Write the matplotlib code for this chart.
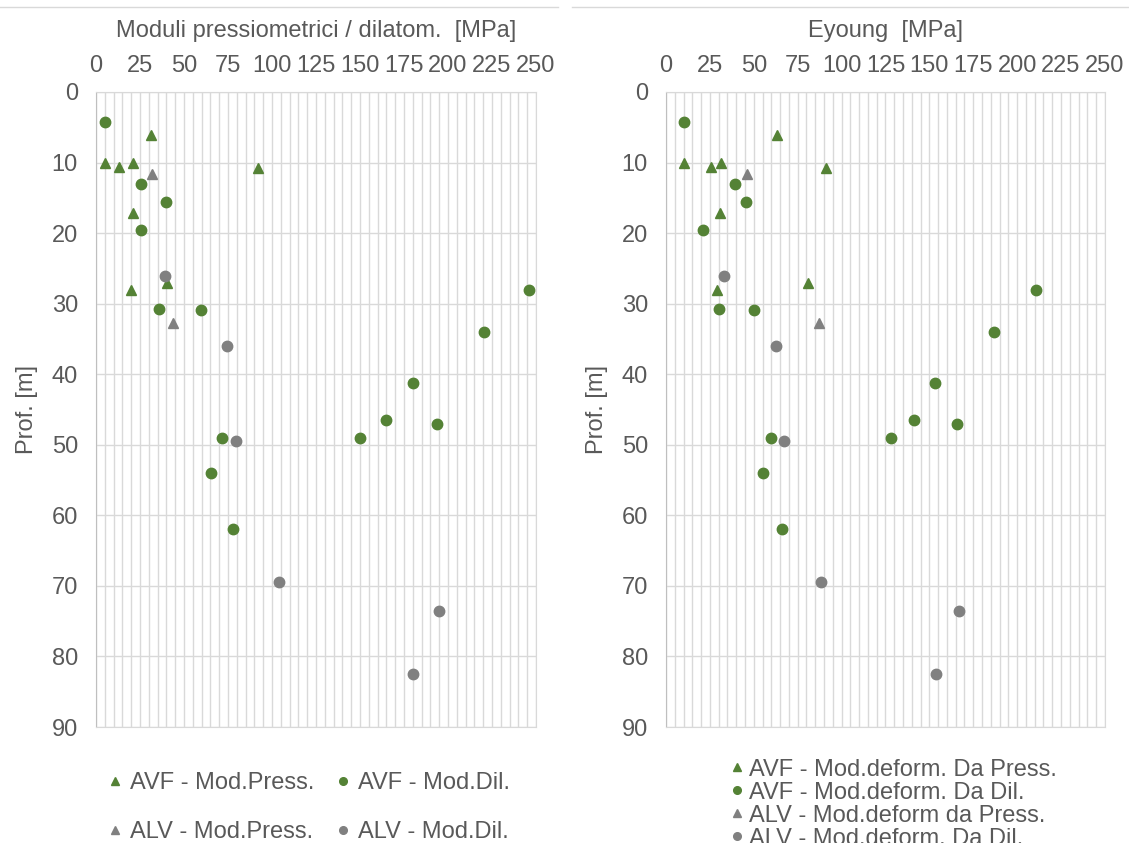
import matplotlib.pyplot as plt
from matplotlib.lines import Line2D
from matplotlib.ticker import MultipleLocator

# colori
green = "#548235"
grey = "#808080"
txt = "#595959"
gridc = "#d9d9d9"

plt.rcParams['font.family'] = ['Liberation Sans', 'DejaVu Sans']
plt.rcParams['font.size'] = 17
plt.rcParams['text.color'] = txt
plt.rcParams['axes.labelcolor'] = txt
plt.rcParams['xtick.color'] = txt
plt.rcParams['ytick.color'] = txt

# dati: profondita [m] e moduli [MPa]
avf_press_prof = [10.0, 10.6, 10.0, 6.1, 17.1, 10.8, 28.1, 27.1]
avf_press_mod = [5.0, 13.0, 21.3, 31.0, 21.2, 91.8, 19.7, 40.5]
avf_press_ey = [10.4, 25.4, 31.3, 63.0, 30.9, 91.1, 29.0, 80.7]

avf_dil_prof = [4.3, 13.1, 15.6, 19.6, 30.7, 30.9, 34.0, 28.0,
                41.2, 46.5, 47.0, 49.0, 49.0, 54.0, 62.0]
avf_dil_mod = [5.1, 25.6, 40.0, 25.6, 36.0, 59.7, 220.5, 246.0,
               180.0, 165.0, 194.0, 150.0, 71.6, 65.3, 77.8]
avf_dil_ey = [10.4, 39.1, 45.4, 21.1, 30.0, 50.1, 187.0, 211.0,
              153.0, 141.0, 166.0, 128.0, 60.0, 55.0, 66.0]

alv_press_prof = [11.6, 32.8]
alv_press_mod = [31.6, 43.9]
alv_press_ey = [46.3, 87.3]

alv_dil_prof = [26.1, 36.0, 49.5, 69.5, 73.5, 82.5]
alv_dil_mod = [39.4, 74.3, 79.5, 104.0, 195.0, 180.0]
alv_dil_ey = [32.9, 62.5, 67.0, 88.0, 167.0, 154.0]

fig = plt.figure(figsize=(11.29, 8.43), dpi=100)
ax1 = fig.add_axes([0.0850, 0.1376, 0.3898, 0.7533])
ax2 = fig.add_axes([0.5899, 0.1376, 0.3888, 0.7533])


def style_ax(ax, xlabel):
    ax.set_xlim(0, 250)
    ax.set_ylim(90, 0)
    ax.xaxis.set_major_locator(MultipleLocator(25))
    ax.xaxis.set_minor_locator(MultipleLocator(5))
    ax.yaxis.set_major_locator(MultipleLocator(10))
    ax.xaxis.tick_top()
    ax.xaxis.set_label_position('top')
    ax.grid(which='both', axis='x', color=gridc, lw=1.0)
    ax.grid(which='major', axis='y', color=gridc, lw=1.0)
    ax.set_axisbelow(True)
    ax.tick_params(which='both', length=0)
    ax.tick_params(axis='x', pad=11)
    ax.tick_params(axis='y', pad=13)
    for s in ax.spines.values():
        s.set_color(gridc)
    ax.spines['left'].set_color("#bfbfbf")
    ax.set_xlabel(xlabel, labelpad=13)
    ax.set_ylabel("Prof. [m]", labelpad=10)


ms = 7.5
for ax, xp, xd, ap, ad in [
        (ax1, avf_press_mod, avf_dil_mod, alv_press_mod, alv_dil_mod),
        (ax2, avf_press_ey, avf_dil_ey, alv_press_ey, alv_dil_ey)]:
    ax.plot(xp, avf_press_prof, ls='none', marker='^', ms=ms, color=green)
    ax.plot(xd, avf_dil_prof, ls='none', marker='o', ms=ms, color=green)
    ax.plot(ap, alv_press_prof, ls='none', marker='^', ms=ms, color=grey)
    ax.plot(ad, alv_dil_prof, ls='none', marker='o', ms=ms, color=grey)

style_ax(ax1, "Moduli pressiometrici / dilatom.  [MPa]")
style_ax(ax2, "Eyoung  [MPa]")


def h(marker, c):
    return Line2D([], [], ls='none', marker=marker, ms=5.5, color=c)


# legenda sinistra (2 colonne)
fig.legend([h('^', green), h('^', grey), h('o', green), h('o', grey)],
           ["AVF - Mod.Press.", "ALV - Mod.Press.",
            "AVF - Mod.Dil.", "ALV - Mod.Dil."],
           ncol=2, loc='upper left', bbox_to_anchor=(0.0955, 0.0845),
           frameon=False, handlelength=0.6, handletextpad=0.35,
           columnspacing=0.9, labelspacing=1.16, borderpad=0,
           borderaxespad=0)

# legenda destra
fig.legend([h('^', green), h('o', green), h('^', grey), h('o', grey)],
           ["AVF - Mod.deform. Da Press.", "AVF - Mod.deform. Da Dil.",
            "ALV - Mod.deform da Press.", "ALV - Mod.deform. Da Dil."],
           loc='upper left', bbox_to_anchor=(0.6466, 0.1),
           frameon=False, handlelength=0.6, handletextpad=0.2,
           labelspacing=0.04, borderpad=0, borderaxespad=0)

# bordi superiori dei due grafici
fig.add_artist(Line2D([0.0, 0.494], [0.992, 0.992], color=gridc, lw=1))
fig.add_artist(Line2D([0.507, 1.0], [0.992, 0.992], color=gridc, lw=1))

fig.savefig("out.png", dpi=100)
